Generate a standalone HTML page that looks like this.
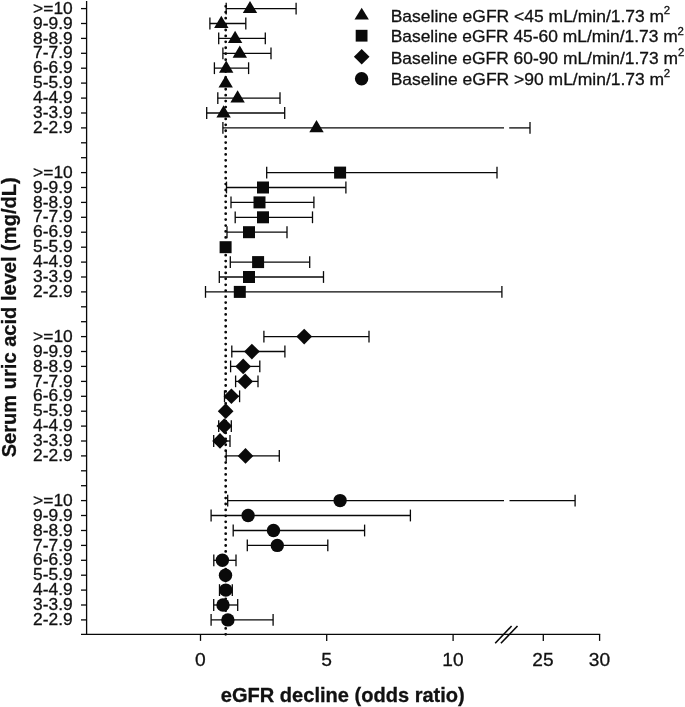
<!DOCTYPE html><html><head><meta charset="utf-8"><title>eGFR decline</title>
<style>html,body{margin:0;padding:0;background:#fff}svg{display:block}text{font-family:"Liberation Sans",Arial,sans-serif;fill:#111;stroke:#111;stroke-width:0.3px}</style></head><body>
<svg width="685" height="707" viewBox="0 0 685 707">
<rect width="685" height="707" fill="#fff"/>
<g stroke="#080808" stroke-width="1.3" fill="none">
<line x1="86.6" y1="1" x2="86.6" y2="634.9"/>
<line x1="81" y1="634.3" x2="600.2" y2="634.3"/>
<line x1="81" y1="8.6" x2="86.6" y2="8.6"/>
<line x1="81" y1="23.5" x2="86.6" y2="23.5"/>
<line x1="81" y1="38.4" x2="86.6" y2="38.4"/>
<line x1="81" y1="53.3" x2="86.6" y2="53.3"/>
<line x1="81" y1="68.2" x2="86.6" y2="68.2"/>
<line x1="81" y1="83.1" x2="86.6" y2="83.1"/>
<line x1="81" y1="98.1" x2="86.6" y2="98.1"/>
<line x1="81" y1="113.0" x2="86.6" y2="113.0"/>
<line x1="81" y1="127.9" x2="86.6" y2="127.9"/>
<line x1="81" y1="142.8" x2="86.6" y2="142.8"/>
<line x1="81" y1="157.7" x2="86.6" y2="157.7"/>
<line x1="81" y1="172.6" x2="86.6" y2="172.6"/>
<line x1="81" y1="187.5" x2="86.6" y2="187.5"/>
<line x1="81" y1="202.4" x2="86.6" y2="202.4"/>
<line x1="81" y1="217.3" x2="86.6" y2="217.3"/>
<line x1="81" y1="232.2" x2="86.6" y2="232.2"/>
<line x1="81" y1="247.2" x2="86.6" y2="247.2"/>
<line x1="81" y1="262.1" x2="86.6" y2="262.1"/>
<line x1="81" y1="277.0" x2="86.6" y2="277.0"/>
<line x1="81" y1="291.9" x2="86.6" y2="291.9"/>
<line x1="81" y1="306.8" x2="86.6" y2="306.8"/>
<line x1="81" y1="321.7" x2="86.6" y2="321.7"/>
<line x1="81" y1="336.6" x2="86.6" y2="336.6"/>
<line x1="81" y1="351.5" x2="86.6" y2="351.5"/>
<line x1="81" y1="366.4" x2="86.6" y2="366.4"/>
<line x1="81" y1="381.4" x2="86.6" y2="381.4"/>
<line x1="81" y1="396.3" x2="86.6" y2="396.3"/>
<line x1="81" y1="411.2" x2="86.6" y2="411.2"/>
<line x1="81" y1="426.1" x2="86.6" y2="426.1"/>
<line x1="81" y1="441.0" x2="86.6" y2="441.0"/>
<line x1="81" y1="455.9" x2="86.6" y2="455.9"/>
<line x1="81" y1="470.8" x2="86.6" y2="470.8"/>
<line x1="81" y1="485.7" x2="86.6" y2="485.7"/>
<line x1="81" y1="500.6" x2="86.6" y2="500.6"/>
<line x1="81" y1="515.5" x2="86.6" y2="515.5"/>
<line x1="81" y1="530.5" x2="86.6" y2="530.5"/>
<line x1="81" y1="545.4" x2="86.6" y2="545.4"/>
<line x1="81" y1="560.3" x2="86.6" y2="560.3"/>
<line x1="81" y1="575.2" x2="86.6" y2="575.2"/>
<line x1="81" y1="590.1" x2="86.6" y2="590.1"/>
<line x1="81" y1="605.0" x2="86.6" y2="605.0"/>
<line x1="81" y1="619.9" x2="86.6" y2="619.9"/>
<line x1="200.5" y1="634.3" x2="200.5" y2="640.9"/>
<line x1="326.7" y1="634.3" x2="326.7" y2="640.9"/>
<line x1="453.1" y1="634.3" x2="453.1" y2="640.9"/>
<line x1="543.3" y1="634.3" x2="543.3" y2="640.9"/>
<line x1="599.6" y1="634.3" x2="599.6" y2="640.9"/>
<line x1="495.2" y1="643.3" x2="511.6" y2="626" stroke-width="1.6"/>
<line x1="500.9" y1="643.3" x2="517.5" y2="626" stroke-width="1.6"/>
</g>
<line x1="225.7" y1="6.3" x2="225.7" y2="634.8" stroke="#0a0a0a" stroke-width="2.8" stroke-linecap="round" stroke-dasharray="0.01 5.915"/>
<g stroke="#080808" stroke-width="1.3" fill="none">
<line x1="226.2" y1="8.6" x2="296.1" y2="8.6"/>
<line x1="226.2" y1="2.7" x2="226.2" y2="14.5"/>
<line x1="296.1" y1="2.7" x2="296.1" y2="14.5"/>
<line x1="209.9" y1="23.5" x2="245.8" y2="23.5"/>
<line x1="209.9" y1="17.6" x2="209.9" y2="29.4"/>
<line x1="245.8" y1="17.6" x2="245.8" y2="29.4"/>
<line x1="218.7" y1="38.4" x2="265.3" y2="38.4"/>
<line x1="218.7" y1="32.5" x2="218.7" y2="44.3"/>
<line x1="265.3" y1="32.5" x2="265.3" y2="44.3"/>
<line x1="222.9" y1="53.3" x2="271" y2="53.3"/>
<line x1="222.9" y1="47.4" x2="222.9" y2="59.2"/>
<line x1="271" y1="47.4" x2="271" y2="59.2"/>
<line x1="214.4" y1="68.2" x2="248.6" y2="68.2"/>
<line x1="214.4" y1="62.3" x2="214.4" y2="74.1"/>
<line x1="248.6" y1="62.3" x2="248.6" y2="74.1"/>
<line x1="217.8" y1="98.1" x2="280" y2="98.1"/>
<line x1="217.8" y1="92.2" x2="217.8" y2="104.0"/>
<line x1="280" y1="92.2" x2="280" y2="104.0"/>
<line x1="206.7" y1="113.0" x2="284.7" y2="113.0"/>
<line x1="206.7" y1="107.1" x2="206.7" y2="118.9"/>
<line x1="284.7" y1="107.1" x2="284.7" y2="118.9"/>
<line x1="222.9" y1="127.9" x2="504" y2="127.9"/>
<line x1="509.2" y1="127.9" x2="530" y2="127.9"/>
<line x1="222.9" y1="122.0" x2="222.9" y2="133.8"/>
<line x1="530" y1="122.0" x2="530" y2="133.8"/>
<line x1="266.7" y1="172.6" x2="497" y2="172.6"/>
<line x1="266.7" y1="166.7" x2="266.7" y2="178.5"/>
<line x1="497" y1="166.7" x2="497" y2="178.5"/>
<line x1="226.5" y1="187.5" x2="345.9" y2="187.5"/>
<line x1="226.5" y1="181.6" x2="226.5" y2="193.4"/>
<line x1="345.9" y1="181.6" x2="345.9" y2="193.4"/>
<line x1="231" y1="202.4" x2="313.9" y2="202.4"/>
<line x1="231" y1="196.5" x2="231" y2="208.3"/>
<line x1="313.9" y1="196.5" x2="313.9" y2="208.3"/>
<line x1="235.2" y1="217.3" x2="312.5" y2="217.3"/>
<line x1="235.2" y1="211.4" x2="235.2" y2="223.2"/>
<line x1="312.5" y1="211.4" x2="312.5" y2="223.2"/>
<line x1="227" y1="232.2" x2="287" y2="232.2"/>
<line x1="227" y1="226.3" x2="227" y2="238.2"/>
<line x1="287" y1="226.3" x2="287" y2="238.2"/>
<line x1="230.3" y1="262.1" x2="309.7" y2="262.1"/>
<line x1="230.3" y1="256.2" x2="230.3" y2="268.0"/>
<line x1="309.7" y1="256.2" x2="309.7" y2="268.0"/>
<line x1="219.3" y1="277.0" x2="323.5" y2="277.0"/>
<line x1="219.3" y1="271.1" x2="219.3" y2="282.9"/>
<line x1="323.5" y1="271.1" x2="323.5" y2="282.9"/>
<line x1="205.5" y1="291.9" x2="501.9" y2="291.9"/>
<line x1="205.5" y1="286.0" x2="205.5" y2="297.8"/>
<line x1="501.9" y1="286.0" x2="501.9" y2="297.8"/>
<line x1="263.9" y1="336.6" x2="369" y2="336.6"/>
<line x1="263.9" y1="330.7" x2="263.9" y2="342.5"/>
<line x1="369" y1="330.7" x2="369" y2="342.5"/>
<line x1="231.8" y1="351.5" x2="284.9" y2="351.5"/>
<line x1="231.8" y1="345.6" x2="231.8" y2="357.4"/>
<line x1="284.9" y1="345.6" x2="284.9" y2="357.4"/>
<line x1="230.6" y1="366.4" x2="259.8" y2="366.4"/>
<line x1="230.6" y1="360.5" x2="230.6" y2="372.3"/>
<line x1="259.8" y1="360.5" x2="259.8" y2="372.3"/>
<line x1="235.6" y1="381.4" x2="258" y2="381.4"/>
<line x1="235.6" y1="375.5" x2="235.6" y2="387.2"/>
<line x1="258" y1="375.5" x2="258" y2="387.2"/>
<line x1="224.5" y1="396.3" x2="239.6" y2="396.3"/>
<line x1="224.5" y1="390.4" x2="224.5" y2="402.2"/>
<line x1="239.6" y1="390.4" x2="239.6" y2="402.2"/>
<line x1="218.7" y1="426.1" x2="231.3" y2="426.1"/>
<line x1="218.7" y1="420.2" x2="218.7" y2="432.0"/>
<line x1="231.3" y1="420.2" x2="231.3" y2="432.0"/>
<line x1="213.7" y1="441.0" x2="230" y2="441.0"/>
<line x1="213.7" y1="435.1" x2="213.7" y2="446.9"/>
<line x1="230" y1="435.1" x2="230" y2="446.9"/>
<line x1="226.2" y1="455.9" x2="279.3" y2="455.9"/>
<line x1="226.2" y1="450.0" x2="226.2" y2="461.8"/>
<line x1="279.3" y1="450.0" x2="279.3" y2="461.8"/>
<line x1="227.7" y1="500.6" x2="504" y2="500.6"/>
<line x1="509.5" y1="500.6" x2="575.1" y2="500.6"/>
<line x1="227.7" y1="494.7" x2="227.7" y2="506.5"/>
<line x1="575.1" y1="494.7" x2="575.1" y2="506.5"/>
<line x1="211.1" y1="515.5" x2="410.4" y2="515.5"/>
<line x1="211.1" y1="509.6" x2="211.1" y2="521.4"/>
<line x1="410.4" y1="509.6" x2="410.4" y2="521.4"/>
<line x1="233.2" y1="530.5" x2="364.6" y2="530.5"/>
<line x1="233.2" y1="524.6" x2="233.2" y2="536.4"/>
<line x1="364.6" y1="524.6" x2="364.6" y2="536.4"/>
<line x1="247.3" y1="545.4" x2="327.8" y2="545.4"/>
<line x1="247.3" y1="539.5" x2="247.3" y2="551.3"/>
<line x1="327.8" y1="539.5" x2="327.8" y2="551.3"/>
<line x1="213.8" y1="560.3" x2="236" y2="560.3"/>
<line x1="213.8" y1="554.4" x2="213.8" y2="566.2"/>
<line x1="236" y1="554.4" x2="236" y2="566.2"/>
<line x1="219.5" y1="590.1" x2="232.3" y2="590.1"/>
<line x1="219.5" y1="584.2" x2="219.5" y2="596.0"/>
<line x1="232.3" y1="584.2" x2="232.3" y2="596.0"/>
<line x1="213.7" y1="605.0" x2="237.7" y2="605.0"/>
<line x1="213.7" y1="599.1" x2="213.7" y2="610.9"/>
<line x1="237.7" y1="599.1" x2="237.7" y2="610.9"/>
<line x1="211.1" y1="619.9" x2="273.1" y2="619.9"/>
<line x1="211.1" y1="614.0" x2="211.1" y2="625.8"/>
<line x1="273.1" y1="614.0" x2="273.1" y2="625.8"/>
</g>
<g fill="#0a0a0a">
<polygon points="250.0,0.9 242.8,13.1 257.2,13.1"/>
<polygon points="221.3,15.8 214.1,28.0 228.5,28.0"/>
<polygon points="235.1,30.7 227.9,42.9 242.3,42.9"/>
<polygon points="239.8,45.6 232.6,57.8 247.0,57.8"/>
<polygon points="226.2,60.5 219.0,72.7 233.4,72.7"/>
<polygon points="225.7,75.4 218.5,87.6 232.9,87.6"/>
<polygon points="237.6,90.3 230.4,102.5 244.8,102.5"/>
<polygon points="223.6,105.2 216.4,117.4 230.8,117.4"/>
<polygon points="316.5,120.1 309.3,132.3 323.7,132.3"/>
<rect x="334.1" y="166.6" width="12" height="12"/>
<rect x="257.0" y="181.5" width="12" height="12"/>
<rect x="253.5" y="196.4" width="12" height="12"/>
<rect x="257.0" y="211.3" width="12" height="12"/>
<rect x="243.0" y="226.2" width="12" height="12"/>
<rect x="219.6" y="241.2" width="12" height="12"/>
<rect x="252.1" y="256.1" width="12" height="12"/>
<rect x="243.0" y="271.0" width="12" height="12"/>
<rect x="233.8" y="285.9" width="12" height="12"/>
<polygon points="304.2,328.8 312.1,336.6 304.2,344.5 296.3,336.6"/>
<polygon points="251.9,343.7 259.8,351.5 251.9,359.4 244.1,351.5"/>
<polygon points="243.2,358.6 251.0,366.4 243.2,374.3 235.3,366.4"/>
<polygon points="245.2,373.5 253.0,381.4 245.2,389.2 237.3,381.4"/>
<polygon points="231.4,388.4 239.2,396.3 231.4,404.1 223.6,396.3"/>
<polygon points="225.7,403.3 233.5,411.2 225.7,419.0 217.8,411.2"/>
<polygon points="224.3,418.2 232.2,426.1 224.3,433.9 216.5,426.1"/>
<polygon points="220.0,433.1 227.8,441.0 220.0,448.8 212.2,441.0"/>
<polygon points="245.5,448.1 253.3,455.9 245.5,463.8 237.7,455.9"/>
<circle cx="340.1" cy="500.6" r="6.7"/>
<circle cx="248.1" cy="515.5" r="6.7"/>
<circle cx="273.5" cy="530.5" r="6.7"/>
<circle cx="277.3" cy="545.4" r="6.7"/>
<circle cx="222.4" cy="560.3" r="6.7"/>
<circle cx="225.5" cy="575.2" r="6.7"/>
<circle cx="225.8" cy="590.1" r="6.7"/>
<circle cx="223.0" cy="605.0" r="6.7"/>
<circle cx="227.9" cy="619.9" r="6.7"/>
<polygon points="361.7,7.7 354.5,19.5 368.9,19.5"/>
<rect x="355.7" y="29.8" width="11.8" height="11.8"/>
<polygon points="361.7,49.0 369.5,56.8 361.7,64.6 353.9,56.8"/>
<circle cx="361.6" cy="78.7" r="6.7"/>
</g>
<g font-size="17" text-anchor="end">
<text x="72.7" y="13.7" textLength="39.6" lengthAdjust="spacingAndGlyphs">&gt;=10</text>
<text x="72.7" y="28.6" textLength="39.6" lengthAdjust="spacingAndGlyphs">9-9.9</text>
<text x="72.7" y="43.5" textLength="39.6" lengthAdjust="spacingAndGlyphs">8-8.9</text>
<text x="72.7" y="58.4" textLength="39.6" lengthAdjust="spacingAndGlyphs">7-7.9</text>
<text x="72.7" y="73.3" textLength="39.6" lengthAdjust="spacingAndGlyphs">6-6.9</text>
<text x="72.7" y="88.2" textLength="39.6" lengthAdjust="spacingAndGlyphs">5-5.9</text>
<text x="72.7" y="103.2" textLength="39.6" lengthAdjust="spacingAndGlyphs">4-4.9</text>
<text x="72.7" y="118.1" textLength="39.6" lengthAdjust="spacingAndGlyphs">3-3.9</text>
<text x="72.7" y="133.0" textLength="39.6" lengthAdjust="spacingAndGlyphs">2-2.9</text>
<text x="72.7" y="177.7" textLength="39.6" lengthAdjust="spacingAndGlyphs">&gt;=10</text>
<text x="72.7" y="192.6" textLength="39.6" lengthAdjust="spacingAndGlyphs">9-9.9</text>
<text x="72.7" y="207.5" textLength="39.6" lengthAdjust="spacingAndGlyphs">8-8.9</text>
<text x="72.7" y="222.4" textLength="39.6" lengthAdjust="spacingAndGlyphs">7-7.9</text>
<text x="72.7" y="237.3" textLength="39.6" lengthAdjust="spacingAndGlyphs">6-6.9</text>
<text x="72.7" y="252.3" textLength="39.6" lengthAdjust="spacingAndGlyphs">5-5.9</text>
<text x="72.7" y="267.2" textLength="39.6" lengthAdjust="spacingAndGlyphs">4-4.9</text>
<text x="72.7" y="282.1" textLength="39.6" lengthAdjust="spacingAndGlyphs">3-3.9</text>
<text x="72.7" y="297.0" textLength="39.6" lengthAdjust="spacingAndGlyphs">2-2.9</text>
<text x="72.7" y="341.7" textLength="39.6" lengthAdjust="spacingAndGlyphs">&gt;=10</text>
<text x="72.7" y="356.6" textLength="39.6" lengthAdjust="spacingAndGlyphs">9-9.9</text>
<text x="72.7" y="371.5" textLength="39.6" lengthAdjust="spacingAndGlyphs">8-8.9</text>
<text x="72.7" y="386.5" textLength="39.6" lengthAdjust="spacingAndGlyphs">7-7.9</text>
<text x="72.7" y="401.4" textLength="39.6" lengthAdjust="spacingAndGlyphs">6-6.9</text>
<text x="72.7" y="416.3" textLength="39.6" lengthAdjust="spacingAndGlyphs">5-5.9</text>
<text x="72.7" y="431.2" textLength="39.6" lengthAdjust="spacingAndGlyphs">4-4.9</text>
<text x="72.7" y="446.1" textLength="39.6" lengthAdjust="spacingAndGlyphs">3-3.9</text>
<text x="72.7" y="461.0" textLength="39.6" lengthAdjust="spacingAndGlyphs">2-2.9</text>
<text x="72.7" y="505.7" textLength="39.6" lengthAdjust="spacingAndGlyphs">&gt;=10</text>
<text x="72.7" y="520.6" textLength="39.6" lengthAdjust="spacingAndGlyphs">9-9.9</text>
<text x="72.7" y="535.6" textLength="39.6" lengthAdjust="spacingAndGlyphs">8-8.9</text>
<text x="72.7" y="550.5" textLength="39.6" lengthAdjust="spacingAndGlyphs">7-7.9</text>
<text x="72.7" y="565.4" textLength="39.6" lengthAdjust="spacingAndGlyphs">6-6.9</text>
<text x="72.7" y="580.3" textLength="39.6" lengthAdjust="spacingAndGlyphs">5-5.9</text>
<text x="72.7" y="595.2" textLength="39.6" lengthAdjust="spacingAndGlyphs">4-4.9</text>
<text x="72.7" y="610.1" textLength="39.6" lengthAdjust="spacingAndGlyphs">3-3.9</text>
<text x="72.7" y="625.0" textLength="39.6" lengthAdjust="spacingAndGlyphs">2-2.9</text>
</g>
<g font-size="19" text-anchor="middle">
<text x="200.4" y="665.8" textLength="10.7" lengthAdjust="spacingAndGlyphs">0</text>
<text x="326.6" y="665.8" textLength="10.7" lengthAdjust="spacingAndGlyphs">5</text>
<text x="453.0" y="665.8" textLength="21.3" lengthAdjust="spacingAndGlyphs">10</text>
<text x="543.0" y="665.8" textLength="21.3" lengthAdjust="spacingAndGlyphs">25</text>
<text x="599.5" y="665.8" textLength="21.3" lengthAdjust="spacingAndGlyphs">30</text>
</g>
<text x="342.8" y="701.8" font-size="19.8" font-weight="bold" text-anchor="middle" textLength="244" lengthAdjust="spacingAndGlyphs">eGFR decline (odds ratio)</text>
<text transform="translate(15.7,317.3) rotate(-90)" font-size="19.3" font-weight="bold" text-anchor="middle" textLength="280" lengthAdjust="spacingAndGlyphs">Serum uric acid level (mg/dL)</text>
<text x="390.7" y="21.7" font-size="16.4" textLength="273.5" lengthAdjust="spacingAndGlyphs">Baseline eGFR &lt;45 mL/min/1.73 m</text>
<text x="663.8" y="14.1" font-size="11.4">2</text>
<text x="390.7" y="42.2" font-size="16.4" textLength="287.1" lengthAdjust="spacingAndGlyphs">Baseline eGFR 45-60 mL/min/1.73 m</text>
<text x="677.6" y="34.6" font-size="11.4">2</text>
<text x="390.7" y="63.5" font-size="16.4" textLength="287.3" lengthAdjust="spacingAndGlyphs">Baseline eGFR 60-90 mL/min/1.73 m</text>
<text x="677.9" y="55.9" font-size="11.4">2</text>
<text x="390.7" y="85.0" font-size="16.4" textLength="273.5" lengthAdjust="spacingAndGlyphs">Baseline eGFR &gt;90 mL/min/1.73 m</text>
<text x="663.8" y="77.4" font-size="11.4">2</text>
</svg></body></html>
